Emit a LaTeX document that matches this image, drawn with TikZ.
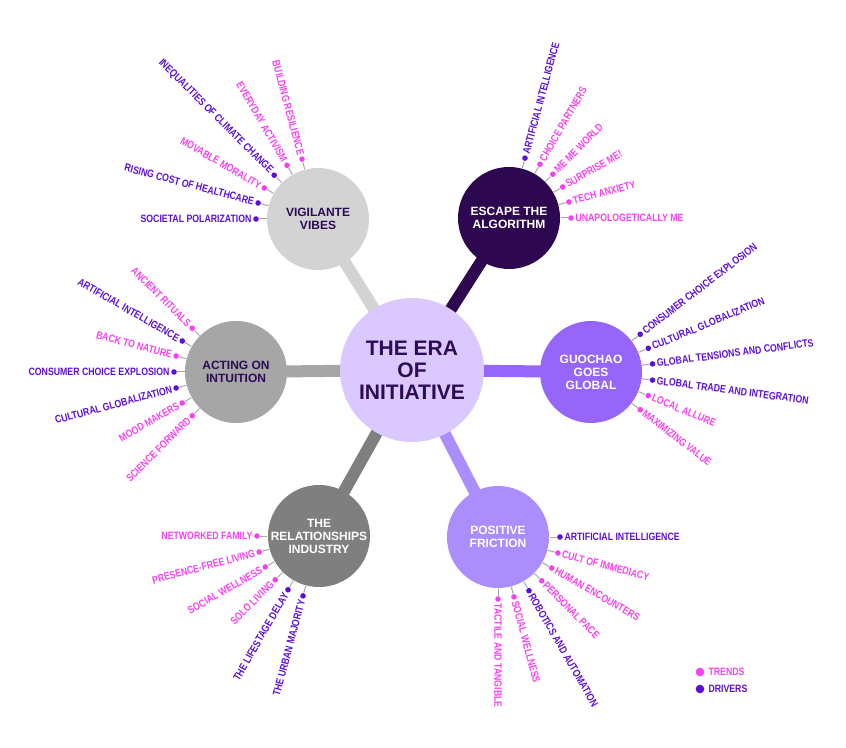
\documentclass[tikz,border=0pt]{standalone}
\usepackage{fontspec}
\setmainfont{Liberation Sans}
\newfontfamily\narrowfont[FakeStretch=0.82]{Liberation Sans Bold}
\usetikzlibrary{backgrounds}

\definecolor{trendc}{RGB}{245,66,240}
\definecolor{driverc}{RGB}{92,16,214}
\definecolor{inkc}{RGB}{44,10,84}
\definecolor{centerc}{RGB}{218,200,255}
\definecolor{vvc}{RGB}{211,211,211}
\definecolor{eac}{RGB}{45,8,80}
\definecolor{ggc}{RGB}{150,101,250}
\definecolor{pfc}{RGB}{171,141,252}
\definecolor{ric}{RGB}{127,127,127}
\definecolor{aic}{RGB}{166,166,166}
\definecolor{spokec}{RGB}{165,165,165}

\tikzset{
	hub/.style={circle, inner sep=0pt, minimum size=108pt, fill=centerc, text=inkc, align=center, font=\bfseries\fontsize{15.75}{16.5}\selectfont},
	theme/.style={circle, inner sep=0pt, minimum size=76.5pt, align=center, font=\bfseries\fontsize{9}{9.75}\selectfont},
	bar/.style={line width=9pt},
	spoke/.style={draw=spokec, line width=0.75pt},
	trend/.style={circle, fill=trendc, inner sep=0pt, minimum size=4.2pt},
	driver/.style={circle, fill=driverc, inner sep=0pt, minimum size=4.2pt},
	lbl/.style={inner xsep=3pt, inner ysep=0pt, font=\narrowfont\fontsize{8}{9}\selectfont},
	lt/.style={lbl, text=trendc},
	ld/.style={lbl, text=driverc}
}
\tikzset{every picture/.style={line width=0.75pt}}

\begin{document}
\begin{tikzpicture}[x=0.75pt,y=0.75pt,yscale=-1,xscale=1]
	\useasboundingbox (0,0) rectangle (846,748);

	% Hub and themes
	\node [hub] (hub) at (412,370) {THE ERA\\OF\\INITIATIVE};
	\node [theme, fill=vvc, text=inkc] (vv) at (318,219) {VIGILANTE\\VIBES};
	\node [theme, fill=eac, text=white] (ea) at (509,218) {ESCAPE THE\\ALGORITHM};
	\node [theme, fill=ggc, text=white] (gg) at (591,372) {GUOCHAO\\GOES\\GLOBAL};
	\node [theme, fill=pfc, text=white] (pf) at (498,537) {POSITIVE\\FRICTION};
	\node [theme, fill=ric, text=white] (ri) at (319,536) {THE\\RELATIONSHIPS\\INDUSTRY};
	\node [theme, fill=aic, text=inkc] (ai) at (236,372) {ACTING ON\\INTUITION};

	% Bars
	\begin{scope}[on background layer]
	\draw [bar, vvc] (hub.center) -- (vv.center) ;
	\draw [bar, eac] (hub.center) -- (ea.center) ;
	\draw [bar, ggc] (hub.center) -- (gg.center) ;
	\draw [bar, pfc] (hub.center) -- (pf.center) ;
	\draw [bar, ric] (hub.center) -- (ri.center) ;
	\draw [bar, aic] (hub.center) -- (ai.center) ;
	\end{scope}

	% Vigilante vibes
	\node [driver] (vv1) at (256,219) {};
	\node [driver] (vv2) at (258.1,203) {};
	\node [trend] (vv3) at (264.3,188) {};
	\node [driver] (vv4) at (274.2,175.2) {};
	\node [trend] (vv5) at (287,165.3) {};
	\node [trend] (vv6) at (302,159.1) {};
	\draw [spoke] (vv) -- (vv1) ;
	\draw [spoke] (vv) -- (vv2) ;
	\draw [spoke] (vv) -- (vv3) ;
	\draw [spoke] (vv) -- (vv4) ;
	\draw [spoke] (vv) -- (vv5) ;
	\draw [spoke] (vv) -- (vv6) ;
	\node [ld, anchor=east] (vv1t) at (vv1.center) {SOCIETAL POLARIZATION};
	\node [ld, anchor=east, rotate=-15] (vv2t) at (vv2.center) {RISING COST OF HEALTHCARE};
	\node [lt, anchor=east, rotate=-30] (vv3t) at (vv3.center) {MOVABLE MORALITY};
	\node [ld, anchor=east, rotate=-45] (vv4t) at (vv4.center) {INEQUALITIES OF CLIMATE CHANGE};
	\node [lt, anchor=east, rotate=-60] (vv5t) at (vv5.center) {EVERYDAY ACTIVISM};
	\node [lt, anchor=east, rotate=-75] (vv6t) at (vv6.center) {BUILDING RESILIENCE};

	% Escape the algorithm
	\node [driver] (ea1) at (525,158.1) {};
	\node [trend] (ea2) at (540,164.3) {};
	\node [trend] (ea3) at (552.8,174.2) {};
	\node [trend] (ea4) at (562.7,187) {};
	\node [trend] (ea5) at (568.9,202) {};
	\node [trend] (ea6) at (571,218) {};
	\draw [spoke] (ea) -- (ea1) ;
	\draw [spoke] (ea) -- (ea2) ;
	\draw [spoke] (ea) -- (ea3) ;
	\draw [spoke] (ea) -- (ea4) ;
	\draw [spoke] (ea) -- (ea5) ;
	\draw [spoke] (ea) -- (ea6) ;
	\node [ld, anchor=west, rotate=75] (ea1t) at (ea1.center) {ARTIFICIAL INTELLIGENCE};
	\node [lt, anchor=west, rotate=60] (ea2t) at (ea2.center) {CHOICE PARTNERS};
	\node [lt, anchor=west, rotate=45] (ea3t) at (ea3.center) {ME ME WORLD};
	\node [lt, anchor=west, rotate=30] (ea4t) at (ea4.center) {SURPRISE ME!};
	\node [lt, anchor=west, rotate=15] (ea5t) at (ea5.center) {TECH ANXIETY};
	\node [lt, anchor=west] (ea6t) at (ea6.center) {UNAPOLOGETICALLY ME};

	% Guochao goes global
	\node [driver] (gg1) at (640.2,334.3) {};
	\node [driver] (gg2) at (648.3,348.3) {};
	\node [driver] (gg3) at (652.5,363.9) {};
	\node [driver] (gg4) at (652.5,380.1) {};
	\node [trend] (gg5) at (648.3,395.7) {};
	\node [trend] (gg6) at (640.2,409.7) {};
	\draw [spoke] (gg) -- (gg1) ;
	\draw [spoke] (gg) -- (gg2) ;
	\draw [spoke] (gg) -- (gg3) ;
	\draw [spoke] (gg) -- (gg4) ;
	\draw [spoke] (gg) -- (gg5) ;
	\draw [spoke] (gg) -- (gg6) ;
	\node [ld, anchor=west, rotate=37.5] (gg1t) at (gg1.center) {CONSUMER CHOICE EXPLOSION};
	\node [ld, anchor=west, rotate=22.5] (gg2t) at (gg2.center) {CULTURAL GLOBALIZATION};
	\node [ld, anchor=west, rotate=7.5] (gg3t) at (gg3.center) {GLOBAL TENSIONS AND CONFLICTS};
	\node [ld, anchor=west, rotate=-7.5] (gg4t) at (gg4.center) {GLOBAL TRADE AND INTEGRATION};
	\node [lt, anchor=west, rotate=-22.5] (gg5t) at (gg5.center) {LOCAL ALLURE};
	\node [lt, anchor=west, rotate=-37.5] (gg6t) at (gg6.center) {MAXIMIZING VALUE};

	% Positive friction
	\node [driver] (pf1) at (560,537) {};
	\node [trend] (pf2) at (557.9,553) {};
	\node [trend] (pf3) at (551.7,568) {};
	\node [trend] (pf4) at (541.8,580.8) {};
	\node [driver] (pf5) at (529,590.7) {};
	\node [trend] (pf6) at (514,596.9) {};
	\node [trend] (pf7) at (498,599) {};
	\draw [spoke] (pf) -- (pf1) ;
	\draw [spoke] (pf) -- (pf2) ;
	\draw [spoke] (pf) -- (pf3) ;
	\draw [spoke] (pf) -- (pf4) ;
	\draw [spoke] (pf) -- (pf5) ;
	\draw [spoke] (pf) -- (pf6) ;
	\draw [spoke] (pf) -- (pf7) ;
	\node [ld, anchor=west] (pf1t) at (pf1.center) {ARTIFICIAL INTELLIGENCE};
	\node [lt, anchor=west, rotate=-15] (pf2t) at (pf2.center) {CULT OF IMMEDIACY};
	\node [lt, anchor=west, rotate=-30] (pf3t) at (pf3.center) {HUMAN ENCOUNTERS};
	\node [lt, anchor=west, rotate=-45] (pf4t) at (pf4.center) {PERSONAL PACE};
	\node [ld, anchor=west, rotate=-60] (pf5t) at (pf5.center) {ROBOTICS AND AUTOMATION};
	\node [lt, anchor=west, rotate=-75] (pf6t) at (pf6.center) {SOCIAL WELLNESS};
	\node [lt, anchor=west, rotate=-90] (pf7t) at (pf7.center) {TACTILE AND TANGIBLE};

	% The relationships industry
	\node [trend] (ri1) at (257,536) {};
	\node [trend] (ri2) at (259.1,552) {};
	\node [trend] (ri3) at (265.3,567) {};
	\node [trend] (ri4) at (275.2,579.8) {};
	\node [driver] (ri5) at (288,589.7) {};
	\node [driver] (ri6) at (303,595.9) {};
	\draw [spoke] (ri) -- (ri1) ;
	\draw [spoke] (ri) -- (ri2) ;
	\draw [spoke] (ri) -- (ri3) ;
	\draw [spoke] (ri) -- (ri4) ;
	\draw [spoke] (ri) -- (ri5) ;
	\draw [spoke] (ri) -- (ri6) ;
	\node [lt, anchor=east] (ri1t) at (ri1.center) {NETWORKED FAMILY};
	\node [lt, anchor=east, rotate=15] (ri2t) at (ri2.center) {PRESENCE-FREE LIVING};
	\node [lt, anchor=east, rotate=30] (ri3t) at (ri3.center) {SOCIAL WELLNESS};
	\node [lt, anchor=east, rotate=45] (ri4t) at (ri4.center) {SOLO LIVING};
	\node [ld, anchor=east, rotate=60] (ri5t) at (ri5.center) {THE LIFESTAGE DELAY};
	\node [ld, anchor=east, rotate=75] (ri6t) at (ri6.center) {THE URBAN MAJORITY};

	% Acting on intuition
	\node [trend] (ai1) at (192.2,328.2) {};
	\node [driver] (ai2) at (182.3,341) {};
	\node [trend] (ai3) at (176.1,356) {};
	\node [driver] (ai4) at (174,372) {};
	\node [driver] (ai5) at (176.1,388) {};
	\node [trend] (ai6) at (182.3,403) {};
	\node [trend] (ai7) at (192.2,415.8) {};
	\draw [spoke] (ai) -- (ai1) ;
	\draw [spoke] (ai) -- (ai2) ;
	\draw [spoke] (ai) -- (ai3) ;
	\draw [spoke] (ai) -- (ai4) ;
	\draw [spoke] (ai) -- (ai5) ;
	\draw [spoke] (ai) -- (ai6) ;
	\draw [spoke] (ai) -- (ai7) ;
	\node [lt, anchor=east, rotate=-45] (ai1t) at (ai1.center) {ANCIENT RITUALS};
	\node [ld, anchor=east, rotate=-30] (ai2t) at (ai2.center) {ARTIFICIAL INTELLIGENCE};
	\node [lt, anchor=east, rotate=-15] (ai3t) at (ai3.center) {BACK TO NATURE};
	\node [ld, anchor=east] (ai4t) at (ai4.center) {CONSUMER CHOICE EXPLOSION};
	\node [ld, anchor=east, rotate=15] (ai5t) at (ai5.center) {CULTURAL GLOBALIZATION};
	\node [lt, anchor=east, rotate=30] (ai6t) at (ai6.center) {MOOD MAKERS};
	\node [lt, anchor=east, rotate=45] (ai7t) at (ai7.center) {SCIENCE FORWARD};

	% Legend
	\node [trend, minimum size=6.5pt] (lgt) at (700,672) {};
	\node [driver, minimum size=6.5pt] (lgd) at (700,689) {};
	\node [lt, anchor=west, inner xsep=6pt] (lgtt) at (lgt.center) {TRENDS};
	\node [ld, anchor=west, inner xsep=6pt] (lgdt) at (lgd.center) {DRIVERS};

\end{tikzpicture}
\end{document}
